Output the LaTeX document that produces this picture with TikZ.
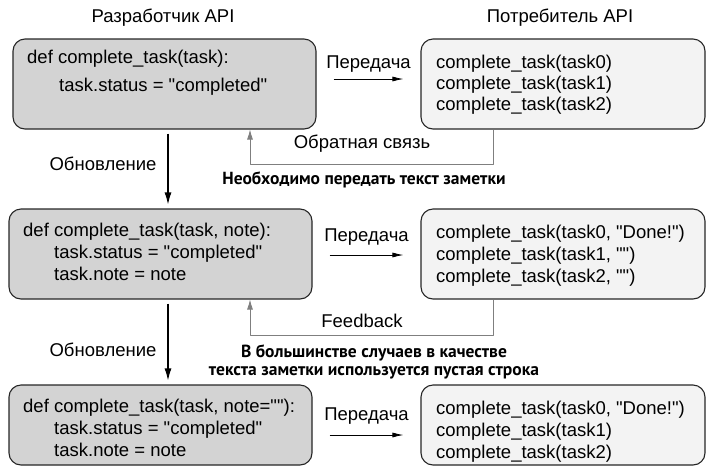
\documentclass[tikz,border=0pt]{standalone}
\usepackage{fontspec}
\setmainfont[Ligatures=TeXOff]{Liberation Sans}
\newfontfamily\notefont{PT Sans}
\usetikzlibrary{arrows.meta}
\definecolor{devfill}{HTML}{D3D3D3}
\definecolor{userfill}{HTML}{F3F3F3}
\definecolor{fbgray}{HTML}{7F7F7F}
\begin{document}
\begin{tikzpicture}[x=1pt, y=-1pt, font=\fontsize{18.5}{22}\selectfont, line join=round,
    devbox/.style={draw=black!85, line width=1.1pt, rounded corners=12pt, fill=devfill,
      minimum width=303pt, minimum height=90pt, inner sep=0pt},
    userbox/.style={devbox, fill=userfill, minimum width=284pt},
    code/.style={anchor=base west, align=left, inner sep=0pt},
    pass/.style={-{Latex[length=11pt,width=5pt]}, line width=0.8pt, shorten <=17pt, shorten >=17pt},
    upd/.style={-{Latex[length=12pt,width=7pt]}, line width=1.1pt, shorten <=4pt, shorten >=4pt},
    fb/.style={-{Latex[length=10pt,width=6pt]}, draw=fbgray, line width=0.8pt},
    note/.style={font=\notefont\bfseries\fontsize{17.5}{18.5}\selectfont, align=center}]
  \useasboundingbox (0,0) rectangle (707,467);
  \node (devtitle) at (163,18) {Разработчик API};
  \node (usertitle) at (560,18) {Потребитель API};

  \node[devbox] (dev1) at (164.5,84) {};
  \node[devbox] (dev2) at (160.5,254) {};
  \node[devbox, minimum height=80pt] (dev3) at (160.5,425) {};
  \node[userbox] (user1) at (563,84) {};
  \node[userbox] (user2) at (563,254) {};
  \node[userbox, minimum height=80pt] (user3) at (563,425) {};

  \node[code] (code1) at (27,91.5) {def complete\_task(task):\\[6pt]\hspace*{32pt}task.status = "completed"};
  \node[code] (code2) at (23,280.5) {def complete\_task(task, note):\\\hspace*{31pt}task.status = "completed"\\\hspace*{31pt}task.note = note};
  \node[code] (code3) at (23,456.5) {def complete\_task(task, note=""):\\\hspace*{31pt}task.status = "completed"\\\hspace*{31pt}task.note = note};
  \node[code] (call1) at (436,110.5) {complete\_task(task0)\\[-1pt]complete\_task(task1)\\[-1pt]complete\_task(task2)};
  \node[code] (call2) at (436,282.5) {complete\_task(task0, "Done!")\\complete\_task(task1, "")\\complete\_task(task2, "")};
  \node[code] (call3) at (436,458.5) {complete\_task(task0, "Done!")\\complete\_task(task1)\\complete\_task(task2)};

  \draw[pass] ([yshift=5pt]dev1.east) -- ([yshift=5pt]user1.west) node[midway, above=3pt] (pass1) {Передача};
  \draw[pass] ([yshift=-1pt]dev2.east) -- ([yshift=-1pt]user2.west) node[midway, above=6pt] (pass2) {Передача};
  \draw[pass] ([yshift=-10pt]dev3.east) -- ([yshift=-10pt]user3.west) node[midway, above=7pt] (pass3) {Передача};

  \draw[upd] ([xshift=3.5pt]dev1.south) -- ([xshift=3.5pt]dev1.south |- dev2.north);
  \draw[upd] ([xshift=7.5pt]dev2.south) -- ([xshift=7.5pt]dev2.south |- dev3.north);
  \node (upd1) at (103,164) {Обновление};
  \node (upd2) at (103,350) {Обновление};

  \draw[fb] ([xshift=-70pt]user1.south) -- ++(0,35) -| ([xshift=85.5pt]dev1.south);
  \draw[fb] ([xshift=-70pt]user2.south) -- ++(0,36) -| ([xshift=89.5pt]dev2.south);
  \node (fb1) at (362,144) {Обратная связь};
  \node (fb2) at (362,321) {Feedback};

  \node[note] (note1) at (364,180) {Необходимо передать текст заметки};
  \node[note] (note2) at (374,362) {В большинстве случаев в качестве\\текста заметки используется пустая строка};
\end{tikzpicture}
\end{document}
